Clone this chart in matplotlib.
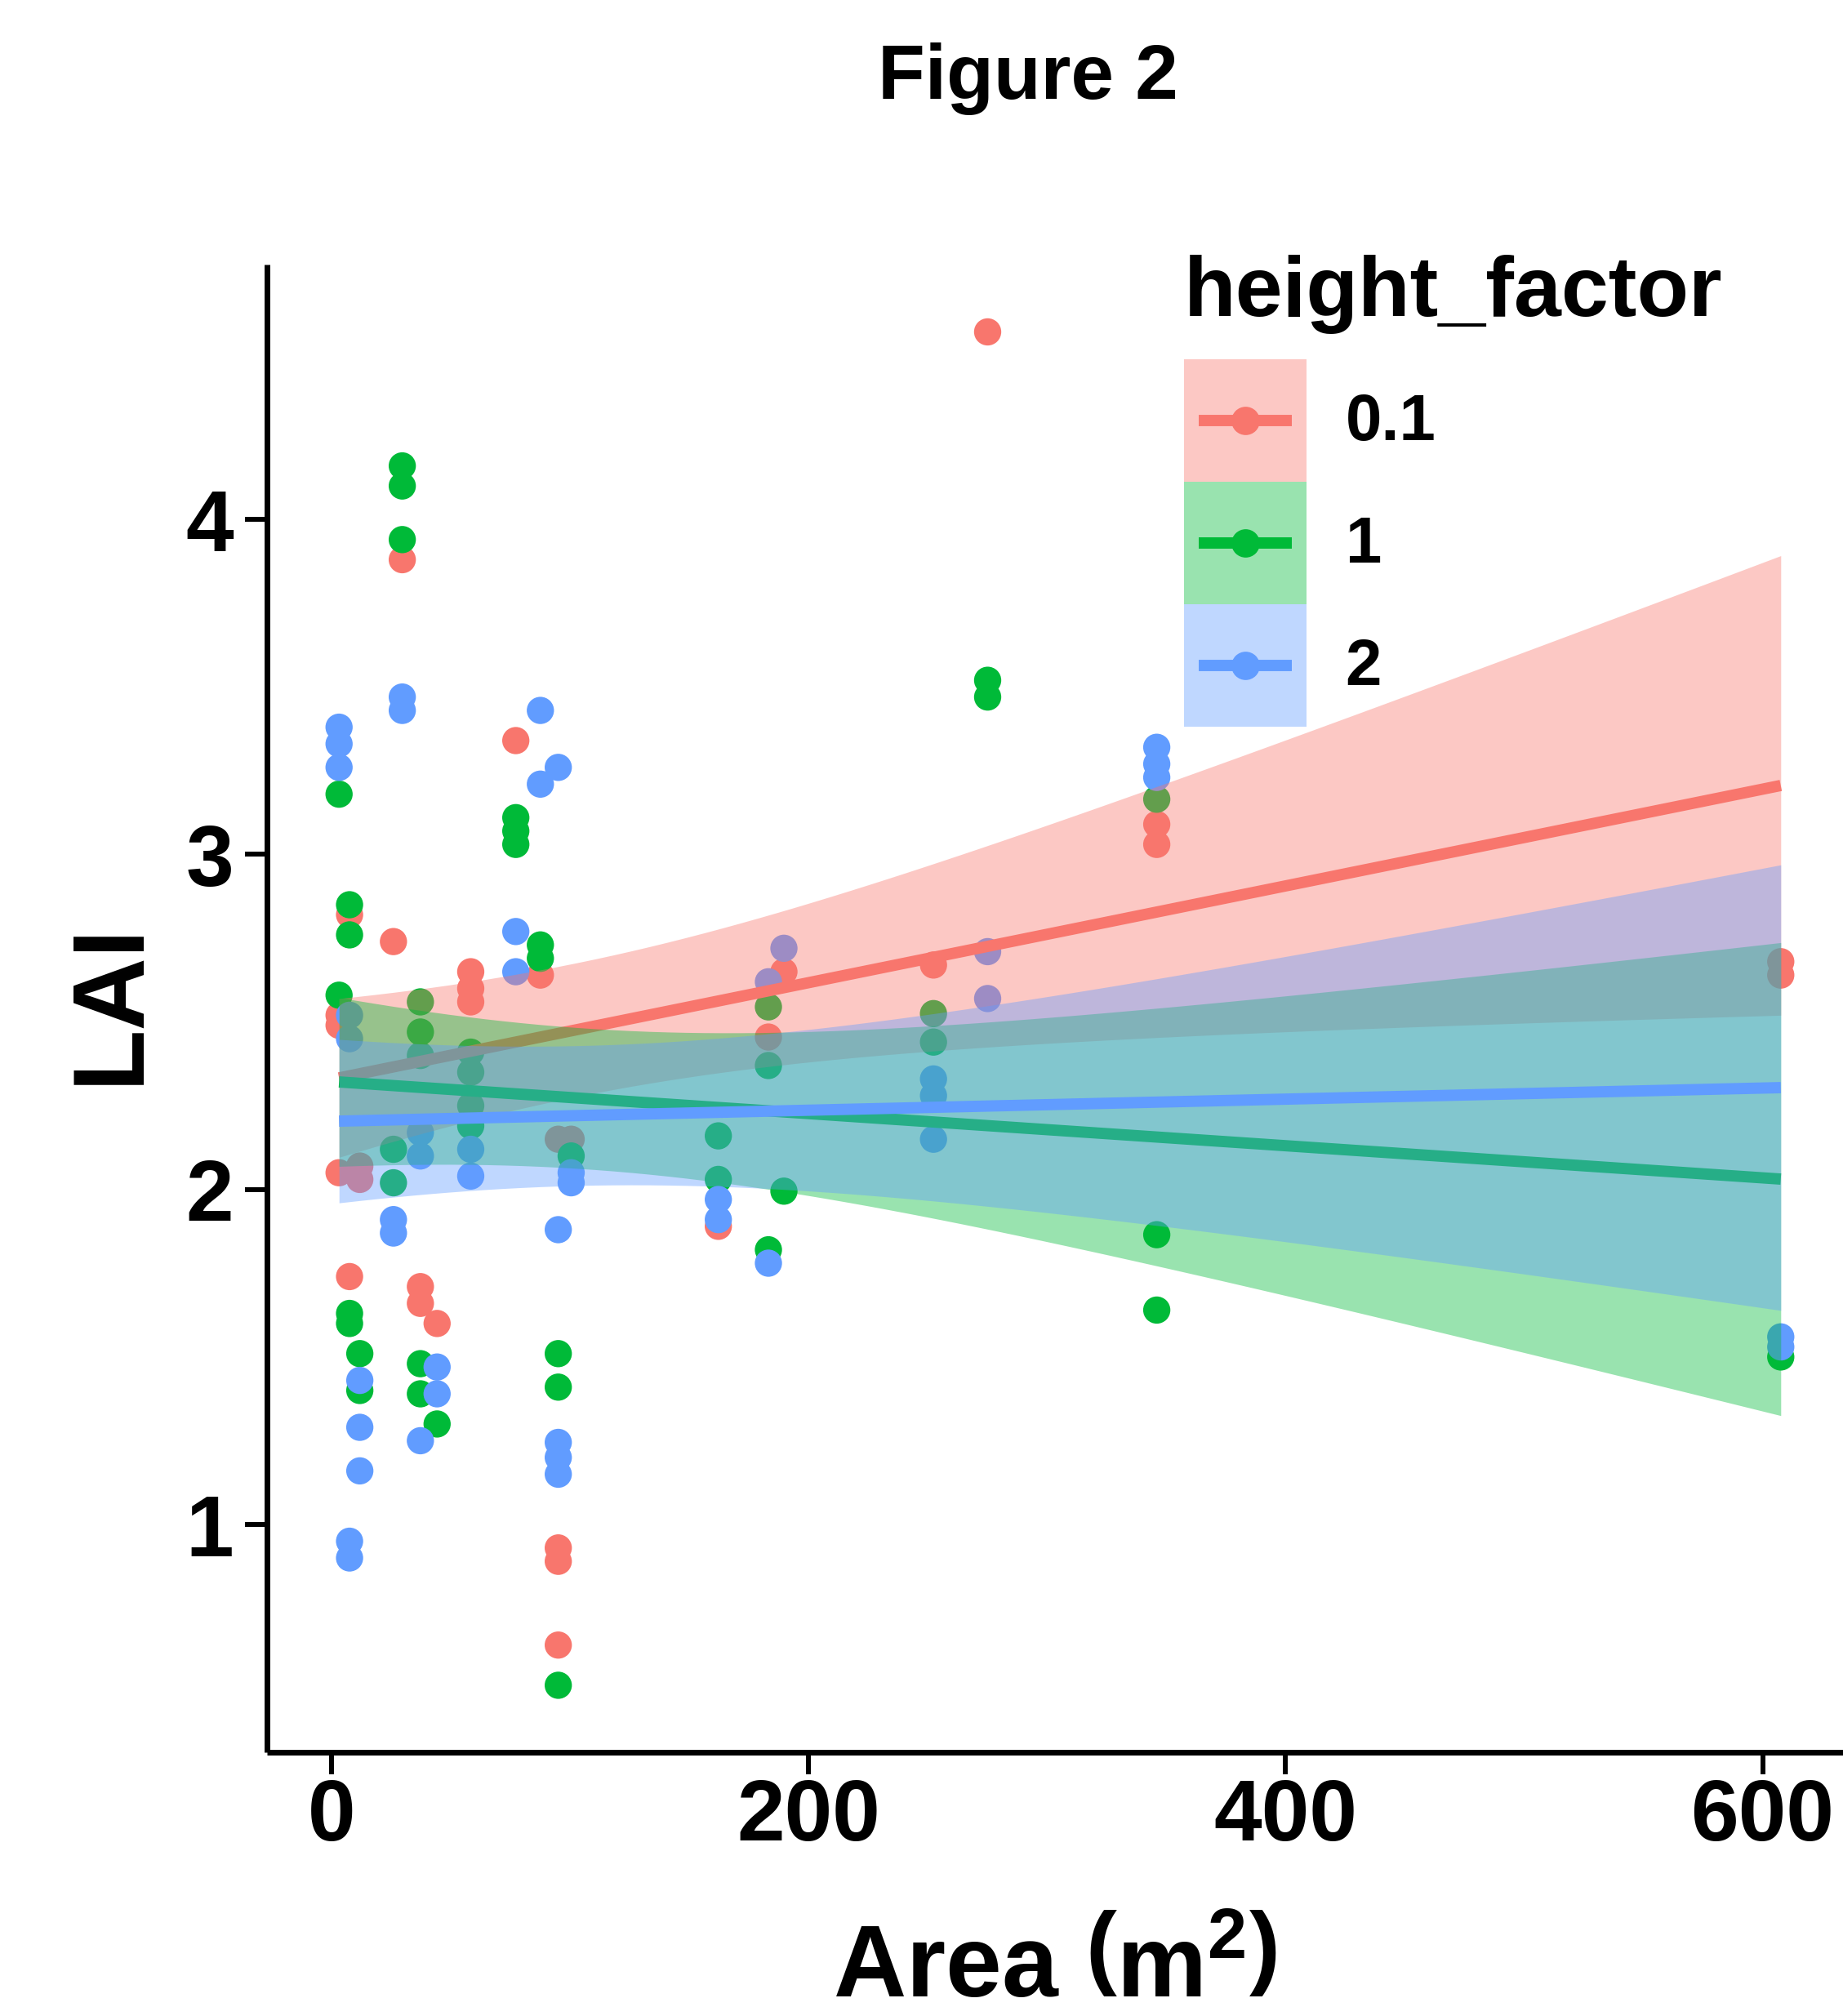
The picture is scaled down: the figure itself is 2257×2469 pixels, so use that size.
import numpy as np
import matplotlib
matplotlib.use('Agg')
import matplotlib.pyplot as plt
from matplotlib.patches import Patch
from matplotlib.lines import Line2D
from matplotlib.legend_handler import HandlerTuple, HandlerLine2D

plt.rcParams['font.family'] = ['Liberation Sans', 'DejaVu Sans']
plt.rcParams['font.weight'] = 'bold'
plt.rcParams['mathtext.fontset'] = 'custom'
plt.rcParams['mathtext.rm'] = 'Liberation Sans:bold'
plt.rcParams['mathtext.bf'] = 'Liberation Sans:bold'
plt.rcParams['mathtext.it'] = 'Liberation Sans:bold'

# ---------------- data ----------------
groups = ['0.1', '1', '2']
colors = ['#F8766D', '#00BA38', '#619CFF']

area_01 = [3.2, 3.2, 3.2, 7.6, 7.6, 11.9, 11.9, 26.0, 29.7, 37.3, 37.3, 44.3,
           58.4, 58.4, 58.4, 77.3, 87.6, 95.1, 95.1, 95.1, 95.1, 100.5, 162.2,
           183.2, 189.7, 252.4, 275.1, 346.0, 346.0, 607.6, 607.6]
lai_01 = [2.52, 2.49, 2.05, 2.82, 1.74, 2.07, 2.03, 2.74, 3.88, 1.71, 1.66, 1.60,
          2.65, 2.60, 2.56, 3.34, 2.64, 2.15, 0.93, 0.89, 0.64, 2.15, 1.89,
          2.455, 2.65, 2.67, 4.56, 3.09, 3.03, 2.68, 2.64]

area_1 = [3.2, 3.2, 7.6, 7.6, 7.6, 7.6, 11.9, 11.9, 26.0, 26.0, 29.7, 29.7, 29.7,
          37.3, 37.3, 37.3, 37.3, 37.3, 44.3, 58.4, 58.4, 58.4, 58.4, 77.3, 77.3,
          77.3, 87.6, 87.6, 95.1, 95.1, 95.1, 100.5, 162.2, 162.2, 183.2, 183.2,
          183.2, 189.7, 252.4, 252.4, 275.1, 275.1, 346.0, 346.0, 346.0, 607.6]
lai_1 = [3.18, 2.58, 2.85, 2.76, 1.63, 1.60, 1.51, 1.40, 2.12, 2.02, 4.16, 4.10, 3.94,
         2.56, 2.47, 2.40, 1.48, 1.39, 1.30, 2.41, 2.35, 2.25, 2.19, 3.11, 3.07,
         3.03, 2.73, 2.69, 1.51, 1.41, 0.52, 2.10, 2.16, 2.03, 2.545, 2.37,
         1.82, 1.995, 2.525, 2.44, 3.52, 3.47, 3.165, 1.865, 1.64, 1.50]

area_2 = [3.2, 3.2, 3.2, 7.6, 7.6, 7.6, 7.6, 11.9, 11.9, 11.9, 26.0, 26.0, 29.7, 29.7,
          37.3, 37.3, 37.3, 44.3, 44.3, 58.4, 58.4, 77.3, 77.3, 87.6, 87.6,
          95.1, 95.1, 95.1, 95.1, 95.1, 100.5, 100.5, 162.2, 162.2, 183.2, 183.2,
          189.7, 252.4, 252.4, 252.4, 275.1, 275.1, 346.0, 346.0, 346.0, 607.6, 607.6]
lai_2 = [3.38, 3.33, 3.26, 2.52, 2.45, 0.95, 0.90, 1.43, 1.29, 1.16, 1.91, 1.87, 3.47, 3.43,
         2.17, 2.10, 1.25, 1.47, 1.39, 2.12, 2.04, 2.77, 2.65, 3.43, 3.21,
         3.26, 1.88, 1.245, 1.20, 1.15, 2.05, 2.02, 1.97, 1.91, 2.62, 1.78,
         2.72, 2.33, 2.28, 2.15, 2.71, 2.57, 3.32, 3.27, 3.23, 1.56, 1.53]

# linear-smooth summaries (per group):
# fitted LAI at the smallest / largest area, 95% CI half-width there,
# and the area where the CI band is narrowest
fit_at_min = [2.333, 2.321, 2.204]
fit_at_max = [3.206, 2.031, 2.304]
ci_half_at_min = [0.237, 0.252, 0.244]
ci_half_at_max = [0.686, 0.706, 0.665]
ci_narrowest_area = [101.6, 106.6, 104.0]

x_ticks = [0, 200, 400, 600]
y_ticks = [1, 2, 3, 4]

series = [(area_01, lai_01), (area_1, lai_1), (area_2, lai_2)]


def smooth_band(xa, k, n_out=80):
    x0, x1 = min(xa), max(xa)
    xs = np.linspace(x0, x1, n_out)
    yh = fit_at_min[k] + (fit_at_max[k] - fit_at_min[k]) * (xs - x0) / (x1 - x0)
    xm = ci_narrowest_area[k]
    B = (ci_half_at_max[k] ** 2 - ci_half_at_min[k] ** 2) / ((x1 - xm) ** 2 - (x0 - xm) ** 2)
    A = ci_half_at_min[k] ** 2 - B * (x0 - xm) ** 2
    half = np.sqrt(A + B * (xs - xm) ** 2)
    return xs, yh, yh - half, yh + half


class CenteredLine(HandlerLine2D):
    """Legend line centred in the key box and slightly inset (ggplot style)."""
    def create_artists(self, legend, orig_handle, xdescent, ydescent, width,
                       height, fontsize, trans):
        arts = super().create_artists(legend, orig_handle, xdescent, ydescent,
                                      width, height, fontsize, trans)
        yc = height / 2 - ydescent
        inset = 0.12 * width
        xs = np.array([-xdescent + inset, -xdescent + width / 2,
                       -xdescent + width - inset])
        for a in arts:
            a.set_xdata(xs)
            a.set_ydata(np.full(3, yc))
            a.set_markevery([1])
        return arts


# ---------------- figure ----------------
W, H = 2257, 2469
fig = plt.figure(figsize=(W / 100, H / 100), dpi=100)
left = 327 / W
right = 2269 / W
bottom = 1 - 2146 / H
top = 1 - 324 / H
ax = fig.add_axes([left, bottom, right - left, top - bottom])

# points
for (xa, ya), c in zip(series, colors):
    ax.scatter(xa, ya, s=24 ** 2, color=c, edgecolors='none', zorder=2)

# smooth lines + ribbons (drawn per group in order)
z = 3
for k, ((xa, ya), c) in enumerate(zip(series, colors)):
    xs, yh, lo, hi = smooth_band(xa, k)
    ax.fill_between(xs, lo, hi, color=c, alpha=0.4, linewidth=0, zorder=z)
    ax.plot(xs, yh, color=c, lw=10, solid_capstyle='butt', zorder=z + 0.5)
    z += 1

ax.set_xlim(-27, 637.8)
ax.set_ylim(0.32, 4.761)
ax.set_xticks(x_ticks)
ax.set_yticks(y_ticks)
ax.set_xticklabels([str(v) for v in x_ticks])
ax.set_yticklabels([str(v) for v in y_ticks])

for sp in ['top', 'right']:
    ax.spines[sp].set_visible(False)
for sp in ['left', 'bottom']:
    ax.spines[sp].set_linewidth(5)
    ax.spines[sp].set_color('black')
    ax.spines[sp].set_capstyle('butt')

ax.tick_params(axis='both', length=19.4, width=4.3, color='black', labelsize=76,
               labelcolor='black')
ax.tick_params(axis='x', pad=3)
ax.tick_params(axis='y', pad=10)
for lab in ax.get_xticklabels() + ax.get_yticklabels():
    lab.set_fontweight('bold')

# legend
handles = [(Patch(facecolor=c, alpha=0.4, edgecolor='none'),
            Line2D([], [], color=c, lw=10, marker='o', markersize=25,
                   markeredgewidth=0, solid_capstyle='butt'))
           for c in colors]
leg = ax.legend(handles, groups,
                handler_map={tuple: HandlerTuple(ndivide=1, pad=0),
                             Line2D: CenteredLine()},
                title='height_factor', loc='upper left',
                bbox_to_anchor=(1450 / W, 1 - 312 / H), bbox_transform=fig.transFigure,
                frameon=False, fontsize=57.5, title_fontsize=75,
                handlelength=1.875, handleheight=2.513, handletextpad=0.6,
                labelspacing=0, borderpad=0, borderaxespad=0, alignment='left')
leg.get_title().set_fontweight('bold')
for t in leg.get_texts():
    t.set_fontweight('bold')
leg._legend_box.sep = 22

# texts
fig.text(1259 / W, 1 - 121 / H, 'Figure 2', ha='center', va='baseline',
         fontsize=68, fontweight='bold')
fig.text(0.0605, 1 - 1229 / H, 'LAI', rotation=90, ha='center', va='center',
         fontsize=89, fontweight='bold')
fig.text(1292 / W, 1 - 2446 / H, r'Area $\left(\mathrm{m}^{2}\right)$',
         ha='center', va='baseline', fontsize=89)

fig.savefig('out.png', dpi=100, facecolor='white')
